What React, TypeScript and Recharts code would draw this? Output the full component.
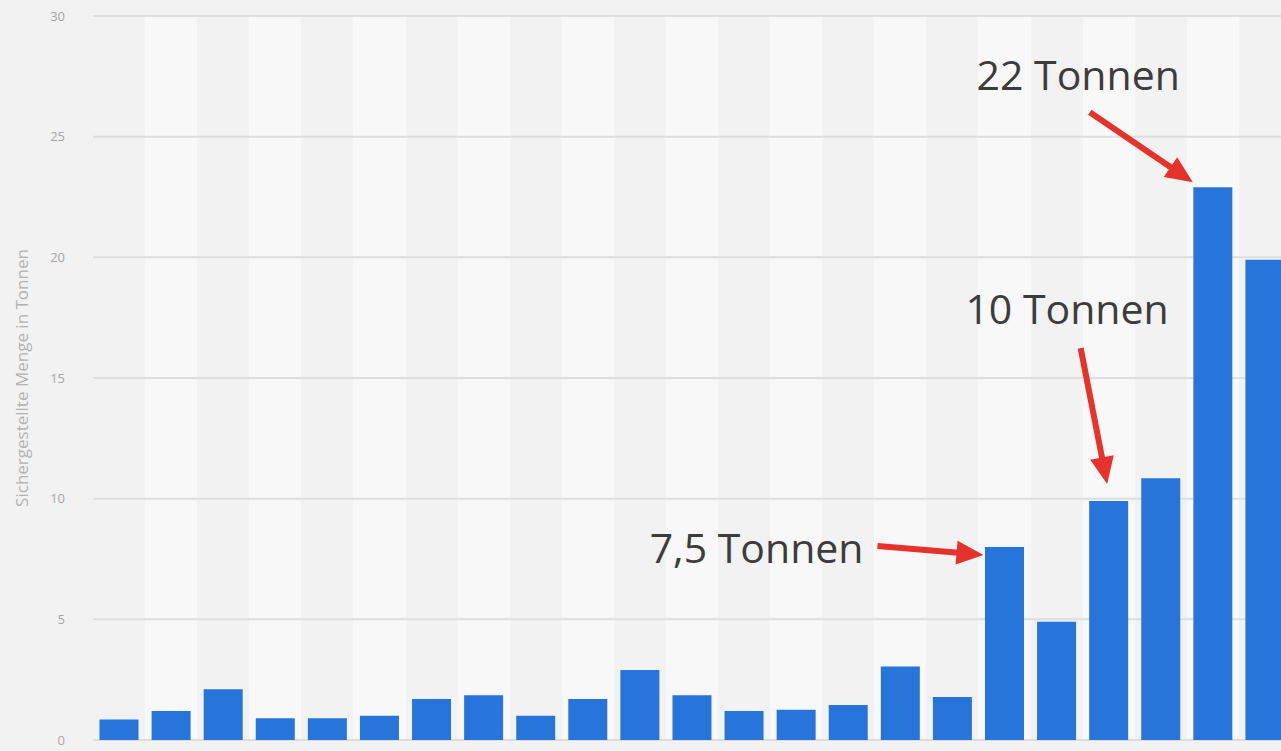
import { BarChart, Bar, XAxis, YAxis, CartesianGrid, LabelList } from "recharts";

const years = [
  "2000", "2001", "2002", "2003", "2004", "2005", "2006", "2007", "2008", "2009", "2010", "2011",
  "2012", "2013", "2014", "2015", "2016", "2017", "2018", "2019", "2020", "2021", "2022",
];
const tonnes = [
  0.85, 1.2, 2.1, 0.9, 0.9, 1.0, 1.7, 1.85, 1.0, 1.7, 2.9, 1.85,
  1.2, 1.25, 1.45, 3.05, 1.78, 8.0, 4.9, 9.9, 10.85, 22.9, 19.9,
];
const yTicks = [0, 5, 10, 15, 20, 25, 30];
const calloutYears = ["2017", "2019", "2021"];
const calloutTexts = ["7,5 Tonnen", "10 Tonnen", "22 Tonnen"];

const data = years.map((year, i) => ({ year, tonnes: tonnes[i] }));

// offsets from the top centre of the bar: text anchor (end), arrow start, arrow tip
const calloutLayout: Record<string, { text: number[]; from: number[]; to: number[] }> = {
  "2017": { text: [-141, 16], from: [-127, -1], to: [-21, 8] },
  "2019": { text: [60, -177], from: [-28, -153], to: [-1.5, -17] },
  "2021": { text: [-33, -97], from: [-123, -75], to: [-20, -5] },
};

const RED = "#e5322a";

function Arrow({ x1, y1, x2, y2 }: { x1: number; y1: number; x2: number; y2: number }) {
  const len = Math.hypot(x2 - x1, y2 - y1);
  const ux = (x2 - x1) / len;
  const uy = (y2 - y1) / len;
  const head = 27;
  const half = 12;
  const bx = x2 - ux * head;
  const by = y2 - uy * head;
  const pts = [
    [x2, y2],
    [bx - uy * half, by + ux * half],
    [bx + uy * half, by - ux * half],
  ]
    .map((p) => p.join(","))
    .join(" ");
  return (
    <g>
      <line x1={x1} y1={y1} x2={bx + ux * 2} y2={by + uy * 2} stroke={RED} strokeWidth={6} />
      <polygon points={pts} fill={RED} />
    </g>
  );
}

function Callout(props: any) {
  const year = String(props.value);
  const idx = calloutYears.indexOf(year);
  if (idx < 0) return null;
  const lay = calloutLayout[year];
  const cx = Number(props.x) + Number(props.width) / 2;
  const top = Number(props.y);
  return (
    <g>
      <Arrow
        x1={cx + lay.from[0]}
        y1={top + lay.from[1]}
        x2={cx + lay.to[0]}
        y2={top + lay.to[1]}
      />
      <text
        x={cx + lay.text[0]}
        y={top + lay.text[1]}
        textAnchor="end"
        fontFamily="'Open Sans', sans-serif"
        fontSize={41}
        fill="#3c3c3c"
      >
        {calloutTexts[idx]}
      </text>
    </g>
  );
}

// one stripe boundary per category band, taken from the plot area
const bandEdges = ({ offset }: any) => {
  const left = offset?.left ?? 93;
  const w = offset?.width ?? 1198;
  return years.map((_, i) => left + (i * w) / years.length).concat(left + w);
};

export default function App() {
  return (
    <div
      style={{
        position: "fixed",
        left: 0,
        top: 0,
        width: 1281,
        height: 751,
        overflow: "hidden",
        background: "#f2f2f2",
      }}
    >
      <BarChart
        width={1291}
        height={751}
        data={data}
        margin={{ top: 16, right: 0, left: 0, bottom: 11 }}
        barCategoryGap="12.5%"
      >
        <CartesianGrid
          horizontal={false}
          stroke="transparent"
          verticalFill={["#f2f2f2", "#f8f8f8"]}
          fillOpacity={1}
          verticalCoordinatesGenerator={bandEdges}
        />
        <CartesianGrid vertical={false} stroke="#dedede" strokeWidth={2} />
        <XAxis
          dataKey="year"
          height={0}
          tick={false}
          tickLine={false}
          axisLine={{ stroke: "#bdbdbd", strokeWidth: 3 }}
        />
        <YAxis
          width={93}
          domain={[0, 30]}
          ticks={yTicks}
          axisLine={false}
          tickLine={false}
          tickSize={0}
          tickMargin={28}
          tick={{ fontSize: 13, fill: "#a6a6a6", fontFamily: "'Open Sans', sans-serif" }}
          label={{
            value: "Sichergestellte Menge in Tonnen",
            angle: -90,
            position: "insideLeft",
            offset: 22,
            style: { textAnchor: "middle", fontSize: 17, fill: "#b3b3b3", fontFamily: "'Open Sans', sans-serif" },
          }}
        />
        <Bar dataKey="tonnes" fill="#2775da" isAnimationActive={false}>
          <LabelList dataKey="year" content={Callout} />
        </Bar>
      </BarChart>
    </div>
  );
}
